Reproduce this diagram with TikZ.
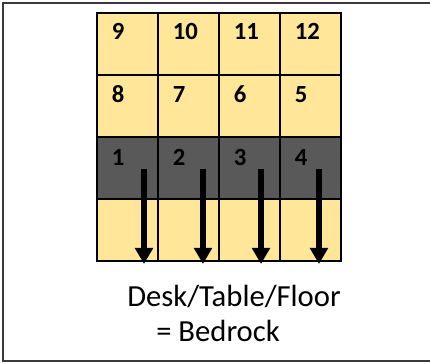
\documentclass[tikz,border=0pt]{standalone}
\usepackage{fontspec}
\setmainfont{Carlito}
\usetikzlibrary{arrows.meta}
\definecolor{gold}{HTML}{FFE699}
\definecolor{slate}{HTML}{595959}
\definecolor{framegray}{HTML}{3A3A3A}
\begin{document}
\begin{tikzpicture}[x=0.75pt,y=-0.75pt,
  cell/.style={draw=black,line width=1.8pt,minimum width=45.75pt,minimum height=46.5pt,anchor=north west,inner sep=0pt,outer sep=0pt},
  num/.style={font=\bfseries\fontsize{18.5}{20}\selectfont,anchor=west,inner sep=0pt},
  push/.style={line width=4.4pt,-{Triangle[width=13pt,length=12pt]}},
  caption/.style={font=\fontsize{23}{28}\selectfont,anchor=base west,inner sep=0pt},
  frame/.style={draw=framegray,line width=1.6pt}]
\useasboundingbox (0,0) rectangle (430,364);
\fill[white] (0,0) rectangle (430,364);
\begin{scope}
\clip (0,0) rectangle (430,364);
\draw[frame] (3,3) rectangle (436,361);
\end{scope}
% cells
\foreach \c in {0,1,2,3}{
  \node[cell,fill=gold] (r1c\c) at (97+61*\c,13) {};
  \node[cell,fill=gold] (r2c\c) at (97+61*\c,75) {};
  \node[cell,fill=slate] (r3c\c) at (97+61*\c,137) {};
  \node[cell,fill=gold] (r4c\c) at (97+61*\c,199) {};
}
% numbers
\node[num] (n9)  at ([xshift=11pt,yshift=-13.5pt]r1c0.north west) {9};
\node[num] (n10) at ([xshift=11pt,yshift=-13.5pt]r1c1.north west) {10};
\node[num] (n11) at ([xshift=11pt,yshift=-13.5pt]r1c2.north west) {11};
\node[num] (n12) at ([xshift=11pt,yshift=-13.5pt]r1c3.north west) {12};
\node[num] (n8)  at ([xshift=11pt,yshift=-14.5pt]r2c0.north west) {8};
\node[num] (n7)  at ([xshift=11pt,yshift=-14.5pt]r2c1.north west) {7};
\node[num] (n6)  at ([xshift=11pt,yshift=-14.5pt]r2c2.north west) {6};
\node[num] (n5)  at ([xshift=11pt,yshift=-14.5pt]r2c3.north west) {5};
\node[num,text=black] (n1) at ([xshift=11pt,yshift=-15pt]r3c0.north west) {1};
\node[num,text=black] (n2) at ([xshift=11pt,yshift=-15pt]r3c1.north west) {2};
\node[num,text=black] (n3) at ([xshift=11pt,yshift=-15pt]r3c2.north west) {3};
\node[num,text=black] (n4) at ([xshift=11pt,yshift=-15pt]r3c3.north west) {4};
% arrows
\coordinate (a1s) at (144,169); \coordinate (a1e) at (144,264);
\coordinate (a2s) at (203,169); \coordinate (a2e) at (203,264);
\coordinate (a3s) at (261,169); \coordinate (a3e) at (261,264);
\coordinate (a4s) at (319,169); \coordinate (a4e) at (319,264);
\draw[push] (a1s) -- (a1e);
\draw[push] (a2s) -- (a2e);
\draw[push] (a3s) -- (a3e);
\draw[push] (a4s) -- (a4e);
% caption
\node[caption] (t1) at (127,307) {Desk/Table/Floor};
\node[caption] (t2) at (156,342) {= Bedrock};
\end{tikzpicture}
\end{document}
